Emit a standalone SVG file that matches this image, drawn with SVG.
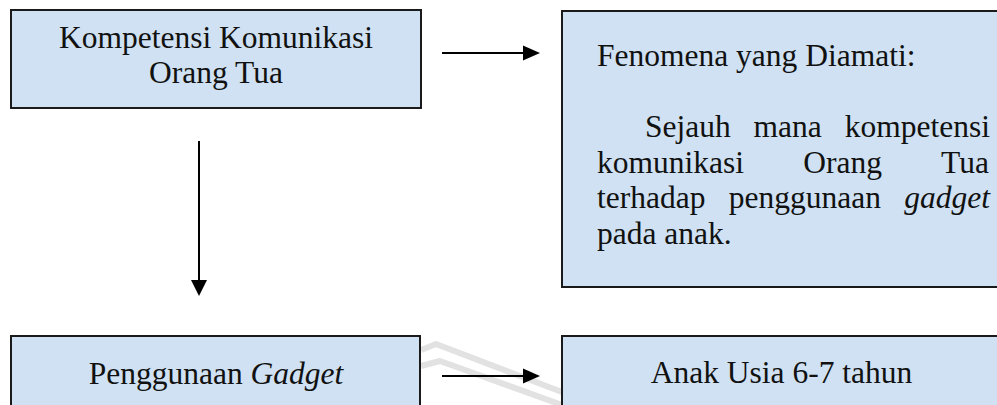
<svg xmlns="http://www.w3.org/2000/svg" width="997" height="405" viewBox="0 0 997 405">
  <style>
    .box { fill: #cfe1f2; stroke: #1a1a1a; stroke-width: 2; }
    .t { font-family: "Liberation Serif", "Times New Roman", serif; font-size: 31.5px; fill: #111; }
    .c { text-anchor: middle; }
    .i { font-style: italic; }
    .conn { stroke: #000; stroke-width: 2; fill: none; }
    .wm { stroke: #e2e2e2; stroke-width: 6; fill: none; stroke-linejoin: round; }
  </style>
  <rect width="997" height="405" fill="#fff"/>
  <g id="watermark">
    <polyline class="wm" points="421,350 436,344 562,392"/>
    <polyline class="wm" points="421,366 440,361 562,405"/>
  </g>
  <g id="connectors">
    <line class="conn" x1="442" y1="53" x2="525" y2="53"/>
    <polygon points="523,45.5 540,53 523,60.5" fill="#000"/>
    <line class="conn" x1="199" y1="141" x2="199" y2="282"/>
    <polygon points="191,280 207,280 199,296" fill="#000"/>
    <line class="conn" x1="442" y1="376" x2="525" y2="376"/>
    <polygon points="523,368.5 540,376 523,383.5" fill="#000"/>
  </g>
  <g id="kompetensi">
    <rect class="box" x="11" y="10" width="410" height="98"/>
    <text class="t c" x="216" y="48">Kompetensi Komunikasi</text>
    <text class="t c" x="216" y="83">Orang Tua</text>
  </g>
  <g id="fenomena">
    <rect class="box" x="562" y="11" width="440" height="276"/>
    <text class="t" x="597" y="66">Fenomena yang Diamati:</text>
    <text class="t" y="137"><tspan x="645">Sejauh</tspan><tspan x="753.6">mana</tspan><tspan x="844.8">kompetensi</tspan></text>
    <text class="t" y="172.5"><tspan x="597">komunikasi</tspan><tspan x="803.2">Orang</tspan><tspan x="941">Tua</tspan></text>
    <text class="t" y="208"><tspan x="597">terhadap</tspan><tspan x="728.8">penggunaan</tspan><tspan x="904.3" class="i">gadget</tspan></text>
    <text class="t" x="597" y="243.5">pada anak.</text>
  </g>
  <g id="penggunaan">
    <rect class="box" x="11" y="336" width="409" height="80"/>
    <text class="t c" x="216" y="384">Penggunaan <tspan class="i">Gadget</tspan></text>
  </g>
  <g id="anak">
    <rect class="box" x="562" y="336" width="440" height="80"/>
    <text class="t c" x="781.5" y="383">Anak Usia 6-7 tahun</text>
  </g>
</svg>
